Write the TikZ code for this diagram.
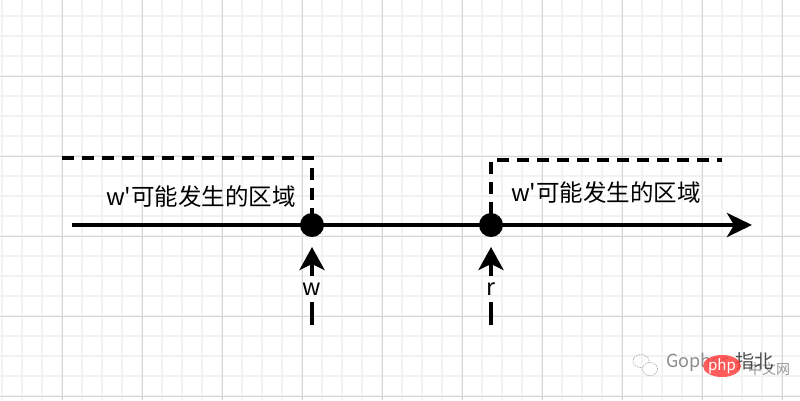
\documentclass[tikz,border=0pt]{standalone}
\usepackage{fontspec}
\setmainfont{Noto Sans CJK SC}
\newfontfamily\cjk{Noto Sans CJK SC}
\usetikzlibrary{arrows.meta,shapes.geometric}
\begin{document}
\begin{tikzpicture}[x=1pt,y=-1pt,
  thick4/.style={line width=4pt},
  dashline/.style={line width=4pt, dash pattern=on 12pt off 8pt},
  dotnode/.style={circle, fill=black, minimum size=24pt, inner sep=0pt},
  arrowlab/.style={inner sep=0pt, minimum height=26pt, font=\cjk\fontsize{23}{23}\selectfont},
  region/.style={inner sep=0pt, font=\cjk\fontsize{23.5}{23.5}\selectfont},
  tip/.style={-{Stealth[length=25pt,width=24pt,inset=7pt]}},
  uptip/.style={-{Stealth[length=23pt,width=25pt,inset=6pt]}}
]
\useasboundingbox (0,0) rectangle (800,400);
\fill[white] (0,0) rectangle (800,400);
% grid
\foreach \x in {2,22,...,800} \draw[line width=1.2pt, black!5] (\x,0) -- (\x,400);
\foreach \y in {16,36,...,400} \draw[line width=1.2pt, black!5] (0,\y) -- (800,\y);
\foreach \x in {62,142,...,800} \draw[line width=0.9pt, black!16] (\x,0) -- (\x,400);
\foreach \y in {76,156,...,400} \draw[line width=0.9pt, black!16] (0,\y) -- (800,\y);

% coordinates
\coordinate (s) at (72,225);
\coordinate (e) at (752,225);
\coordinate (L) at (62,158);
\coordinate (R) at (722,160);
\coordinate (wtip) at (312,247);
\coordinate (rtip) at (491,247);
\coordinate (wb) at (312,325);
\coordinate (rb) at (491,325);

% main axis
\draw[thick4, tip] (s) -- (e);
\node[dotnode] (w) at (312,225) {};
\node[dotnode] (r) at (491,225) {};

% region outlines
\draw[dashline] (L) -| ([yshift=-1pt]w.north);
\draw[dashline] ([yshift=-1pt]r.north) |- (R);

% region labels
\node[region] (lt) at (201,197) {w'可能发生的区域};
\node[region] (rt) at (606,193) {w'可能发生的区域};

% up arrows
\node[arrowlab] (wl) at (312,289) {w};
\node[arrowlab] (rl) at (491,289) {r};
\draw[thick4, uptip] (wl.north) -- (wtip);
\draw[thick4, uptip] (rl.north) -- (rtip);
\draw[thick4] (wb) -- (wl.south);
\draw[thick4] (rb) -- (rl.south);

% watermark
\draw[black!35, line width=0.6pt, dash pattern=on 1.5pt off 1pt] (641,361) ellipse (8pt and 6.5pt);
\draw[black!35, line width=0.6pt, dash pattern=on 1.5pt off 1pt, fill=white] (650,369) ellipse (7.5pt and 6.5pt);
\node[inner sep=0pt, anchor=west, text=black!45, font=\cjk\fontsize{18}{18}\selectfont] (gw) at (666,362) {Gopher};
\node[inner sep=0pt, anchor=west, text=black!40, font=\cjk\fontsize{14}{14}\selectfont] (cn) at (748,369) {中文网};
\node[inner sep=0pt, anchor=west, text=black!70, font=\cjk\fontsize{19}{19}\selectfont] (zb) at (735,361) {指北};
\node[ellipse, fill=red!75!white, opacity=0.85, minimum width=38pt, minimum height=22pt, inner sep=0pt] (php) at (722,366) {};
\node[inner sep=0pt, text=white, font=\cjk\fontsize{15}{15}\selectfont\itshape] (phpt) at (php) {php};
\end{tikzpicture}
\end{document}
